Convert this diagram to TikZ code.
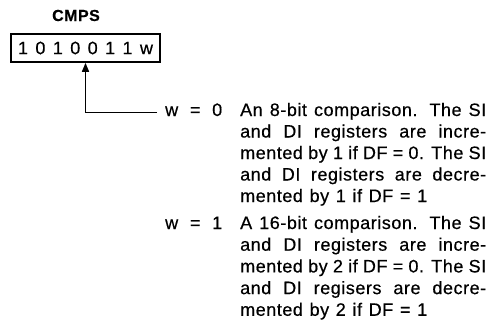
\documentclass[tikz,border=0pt]{standalone}
\usepackage{fontspec}
\setmainfont{Liberation Sans}[LetterSpace=3,FakeBold=0.5]
\usetikzlibrary{arrows.meta,calc}
\newcommand{\jline}[2]{\makebox[#1pt][s]{#2}}
\tikzset{
  txt/.style={anchor=base west, inner sep=0pt, font=\fontsize{18}{20}\selectfont},
  regbox/.style={draw, line width=1.6pt, minimum width=149pt, minimum height=28pt, inner sep=0pt, font=\fontsize{18}{20}\selectfont},
  title/.style={anchor=base, inner sep=0pt, font=\bfseries\fontsize{16}{18}\selectfont},
  link/.style={line width=1.5pt, -{Triangle[length=9pt,width=7pt]}}
}
\begin{document}
\begin{tikzpicture}[x=1pt,y=1pt]
\useasboundingbox (0,0) rectangle (488,-322);
\node[title] (cmps) at (76,-21) {CMPS};
\node[regbox] (reg) at (85.5,-48) {\jline{135}{1 0 1 0 0 1 1 w}};
% w = 0 block
\node[txt] (w0) at (165,-116) {\jline{57}{w = 0}};
\node[txt] (a1) at (240,-116) {\jline{246}{An 8-bit comparison. The SI}};
\node[txt] (a2) at (240,-137.5) {\jline{246}{and DI registers are incre-}};
\node[txt] (a3) at (240,-159) {\jline{246}{mented by 1 if DF = 0. The SI}};
\node[txt] (a4) at (240,-180.5) {\jline{246}{and DI registers are decre-}};
\node[txt] (a5) at (240,-202) {\jline{187}{mented by 1 if DF = 1}};
% w = 1 block
\node[txt] (w1) at (165,-229) {\jline{57}{w = 1}};
\node[txt] (b1) at (240,-229) {\jline{246}{A 16-bit comparison. The SI}};
\node[txt] (b2) at (240,-250.7) {\jline{246}{and DI registers are incre-}};
\node[txt] (b3) at (240,-272.4) {\jline{246}{mented by 2 if DF = 0. The SI}};
\node[txt] (b4) at (240,-294.1) {\jline{246}{and DI regisers are decre-}};
\node[txt] (b5) at (240,-315.8) {\jline{187}{mented by 2 if DF = 1}};
% connector
\coordinate (tail) at ($(w0.base west)+(-8,3.5)$);
\draw[link] (tail) -| (reg.south);
\end{tikzpicture}
\end{document}
